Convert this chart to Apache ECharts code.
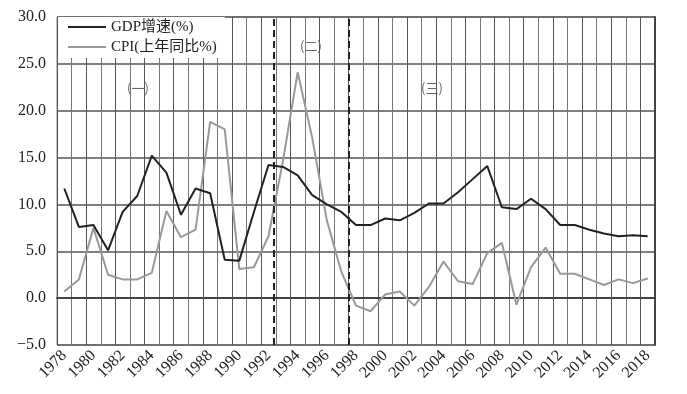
<!DOCTYPE html>
<html><head><meta charset="utf-8">
<script src="https://cdn.jsdelivr.net/npm/echarts@6/dist/echarts.min.js"></script>
<style>html,body{margin:0;padding:0;background:#fff}#c{width:687px;height:394px}</style>
</head><body><div id="c"></div>
<script>
const years = [];
for (let y = 1978; y <= 2018; y++) years.push(String(y));
const gdp = [11.7,7.6,7.8,5.1,9.2,10.9,15.2,13.4,8.9,11.7,11.2,4.1,4.0,9.2,14.2,14.0,13.1,11.0,10.0,9.2,7.8,7.8,8.5,8.3,9.1,10.1,10.1,11.3,12.7,14.1,9.7,9.5,10.6,9.5,7.8,7.8,7.3,6.9,6.6,6.7,6.6];
const cpi = [0.7,2.0,7.5,2.5,2.0,2.0,2.7,9.3,6.5,7.3,18.8,18.0,3.1,3.3,6.6,14.7,24.1,17.1,8.3,2.8,-0.8,-1.4,0.4,0.7,-0.8,1.2,3.9,1.8,1.5,4.8,5.9,-0.7,3.3,5.4,2.6,2.6,2.0,1.4,2.0,1.6,2.1];
const seriesNames = ['GDP增速(%)', 'CPI(上年同比%)'];
const periodLabels = ['(一)', '(二)', '(三)'];
const periodBreaks = [14.85, 20];

const serif = '"Liberation Serif", "Times New Roman", "Noto Sans CJK SC", serif';
const chart = echarts.init(document.getElementById('c'));
chart.setOption({
  animation: false,
  backgroundColor: '#fff',
  grid: {left: 57, top: 17, right: 32, bottom: 49, show: true, borderColor: '#888', borderWidth: 1},
  legend: {
    orient: 'vertical', left: 58, top: 17, itemWidth: 38, itemHeight: 2, itemGap: 4,
    icon: 'rect',
    padding: [2, 8, 3, 10],
    backgroundColor: '#fff',
    textStyle: {fontFamily: serif, fontSize: 15, color: '#222', lineHeight: 16},
    data: seriesNames
  },
  xAxis: [{
    type: 'category', data: years, boundaryGap: true,
    axisLine: {show: true, lineStyle: {color: '#444', width: 2}},
    axisTick: {show: false},
    axisLabel: {interval: 1, rotate: 45, fontFamily: serif, fontSize: 16, color: '#222', margin: 8},
    splitLine: {show: true, interval: 0, lineStyle: {color: ['#555', '#777'], width: 1}}
  }, {
    type: 'value', min: 0, max: 41, show: false
  }],
  yAxis: [{
    type: 'value', min: -5, max: 30, interval: 5,
    axisLine: {show: false}, axisTick: {show: false},
    axisLabel: {fontFamily: serif, fontSize: 16, color: '#222', margin: 11,
      formatter: v => (v < 0 ? '\u2212' + Math.abs(v).toFixed(1) : v.toFixed(1))},
    splitLine: {show: true, lineStyle: {color: '#555', width: 1.5}}
  }, {
    type: 'value', min: -5, max: 30, interval: 5, position: 'right',
    axisLine: {show: true, lineStyle: {color: '#444', width: 2}},
    axisTick: {show: false}, axisLabel: {show: false}, splitLine: {show: false}
  }],
  series: [{
    name: seriesNames[0], type: 'line', data: gdp, symbol: 'none', z: 4,
    lineStyle: {color: '#222', width: 2}, itemStyle: {color: '#222'}
  }, {
    name: seriesNames[1], type: 'line', data: cpi, symbol: 'none', z: 3,
    lineStyle: {color: '#999', width: 2}, itemStyle: {color: '#999'}
  }, {
    type: 'line', xAxisIndex: 1, data: [], silent: true,
    markLine: {
      symbol: 'none', silent: true, label: {show: false},
      lineStyle: {color: '#222', type: [7, 4], width: 2},
      data: periodBreaks.map(v => ({xAxis: v}))
    }
  }],
  graphic: [
    {type: 'text', x: 138, y: 88, style: {text: periodLabels[0], fill: '#666', font: '13px "Noto Sans CJK SC"', align: 'center', verticalAlign: 'middle'}},
    {type: 'text', x: 311, y: 46, style: {text: periodLabels[1], fill: '#666', font: '13px "Noto Sans CJK SC"', align: 'center', verticalAlign: 'middle'}},
    {type: 'text', x: 432, y: 88, style: {text: periodLabels[2], fill: '#666', font: '13px "Noto Sans CJK SC"', align: 'center', verticalAlign: 'middle'}}
  ]
});
</script></body></html>
